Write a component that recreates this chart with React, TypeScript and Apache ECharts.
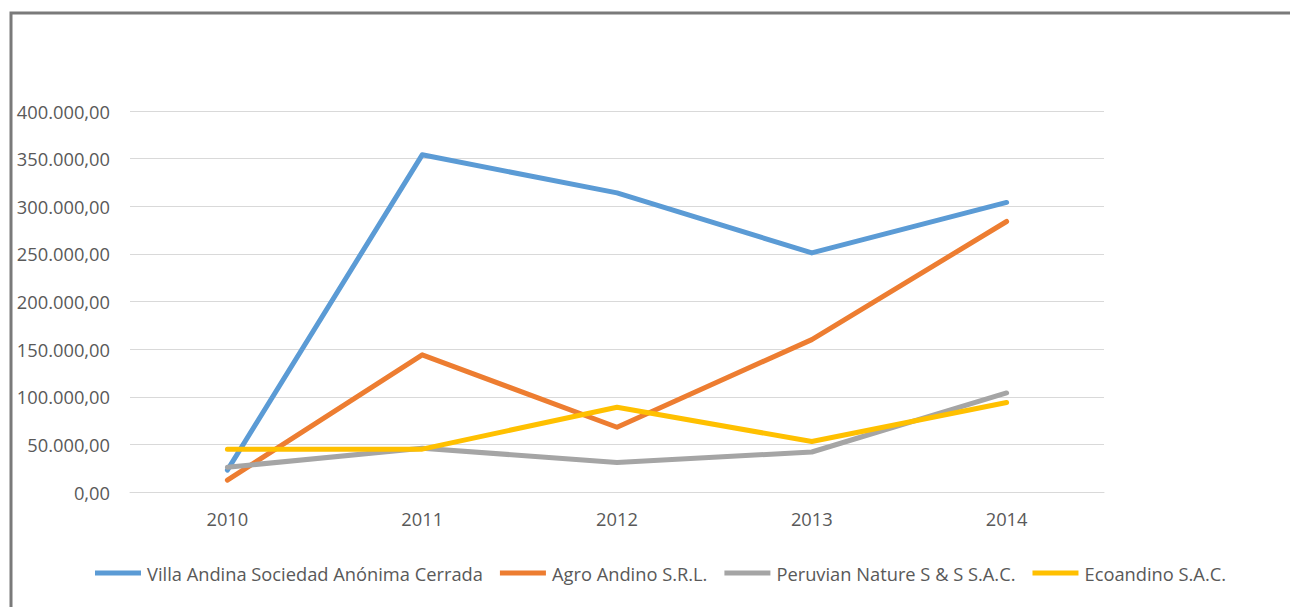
import React, { useEffect, useRef } from "react";
import * as echarts from "echarts";

const years = ["2010", "2011", "2012", "2013", "2014"];
const villaAndina = [23000, 354000, 314000, 251000, 304000];
const agroAndino = [12500, 144000, 68000, 160000, 284000];
const peruvianNature = [26000, 46000, 31000, 42000, 104000];
const ecoandino = [45000, 45000, 89000, 53000, 94000];
const seriesNames = [
  "Villa Andina Sociedad Anónima Cerrada",
  "Agro Andino S.R.L.",
  "Peruvian Nature S & S S.A.C.",
  "Ecoandino S.A.C.",
];
const colors = ["#5B9BD5", "#ED7D31", "#A5A5A5", "#FFC000"];

function fmt(v: number): string {
  const s = Math.round(v).toString().replace(/\B(?=(\d{3})+(?!\d))/g, ".");
  return s + ",00";
}

export default function App() {
  const ref = useRef<HTMLDivElement>(null);
  useEffect(() => {
    if (!ref.current) return;
    const chart = echarts.init(ref.current, null, { renderer: "svg" });
    const data = [villaAndina, agroAndino, peruvianNature, ecoandino];
    chart.setOption({
      animation: false,
      backgroundColor: "#ffffff",
      textStyle: { fontFamily: "Open Sans" },
      graphic: [
        {
          type: "rect",
          shape: { x: 11, y: 13, width: 1400, height: 800 },
          style: { fill: "none", stroke: "#7a7a7a", lineWidth: 3 },
          silent: true,
        },
      ],
      grid: { left: 130, right: 186, top: 111, bottom: 115 },
      legend: {
        bottom: 20,
        left: 90,
        icon: "rect",
        itemWidth: 46,
        itemHeight: 5,
        itemGap: 17,
        textStyle: { color: "#595959", fontSize: 18.3, fontFamily: "Open Sans", padding: [0, 0, 0, 1] },
        data: seriesNames,
      },
      xAxis: {
        type: "category",
        data: years,
        boundaryGap: true,
        axisLine: { show: true, lineStyle: { color: "#d9d9d9" } },
        axisTick: { show: false },
        axisLabel: { color: "#595959", fontSize: 18.3, margin: 17 },
      },
      yAxis: {
        type: "value",
        min: 0,
        max: 400000,
        interval: 50000,
        axisLine: { show: false },
        axisTick: { show: false },
        splitLine: { lineStyle: { color: "#d9d9d9", width: 1 } },
        axisLabel: { color: "#595959", fontSize: 18.3, margin: 20, formatter: (v: number) => fmt(v) },
      },
      series: data.map((d, i) => ({
        name: seriesNames[i],
        type: "line",
        data: d,
        showSymbol: false,
        symbol: "none",
        color: colors[i],
        lineStyle: { width: 5, color: colors[i], cap: "round", join: "round" },
      })),
    });
    return () => chart.dispose();
  }, []);
  return (
    <div
      ref={ref}
      style={{ position: "fixed", left: 0, top: 0, width: 1290, height: 607 }}
    />
  );
}
